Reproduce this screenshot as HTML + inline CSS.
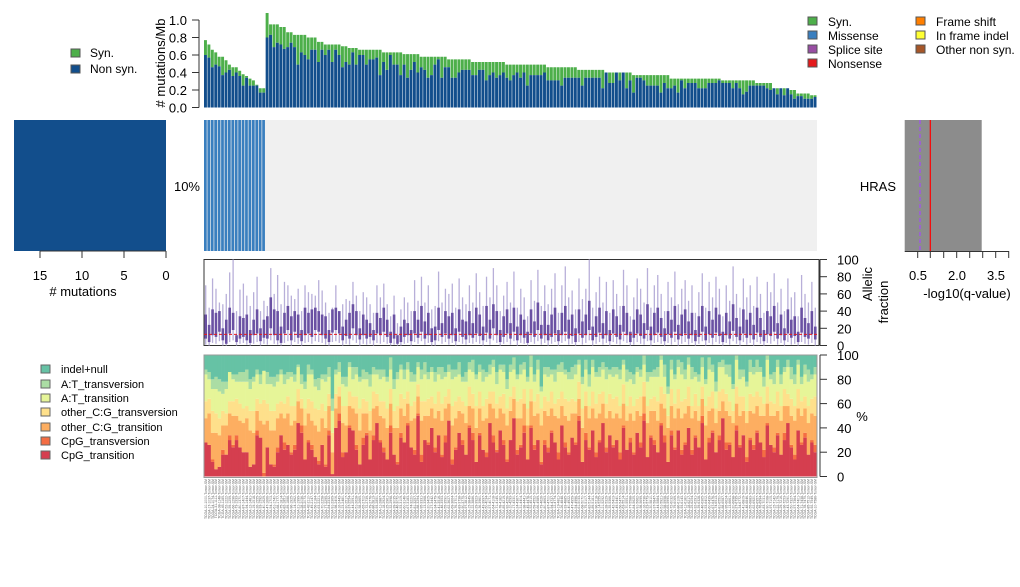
<!DOCTYPE html>
<html><head><meta charset="utf-8">
<style>
html,body{margin:0;padding:0;background:#fff;}
svg{display:block;font-family:"Liberation Sans",Arial,sans-serif;}
</style></head>
<body>
<svg id="chart" width="1020" height="587" viewBox="0 0 1020 587" xmlns="http://www.w3.org/2000/svg">
<g id="top"></g>
<g id="heat"></g>
<g id="allelic"></g>
<g id="spectrum"></g>
<g id="labels"></g>
<g id="static">
  <line x1="199" y1="20" x2="199" y2="107.5" stroke="#333"/>
  <text x="165" y="63" font-size="13" text-anchor="middle" transform="rotate(-90 165 63)"># mutations/Mb</text>
  <rect x="71" y="49" width="9" height="8" fill="#4daf4a" stroke="#555"/>
  <text x="90" y="57" font-size="12">Syn.</text>
  <rect x="71" y="65" width="9" height="8" fill="#124e8c" stroke="#555"/>
  <text x="90" y="73" font-size="12">Non syn.</text>
  <g font-size="12">
    <rect x="808" y="17" width="9" height="8" fill="#4daf4a" stroke="#555"/><text x="828" y="26">Syn.</text>
    <rect x="808" y="31" width="9" height="8" fill="#3a7fbf" stroke="#555"/><text x="828" y="40">Missense</text>
    <rect x="808" y="45" width="9" height="8" fill="#984ea3" stroke="#555"/><text x="828" y="54">Splice site</text>
    <rect x="808" y="59" width="9" height="8" fill="#e41a1c" stroke="#555"/><text x="828" y="68">Nonsense</text>
    <rect x="916" y="17" width="9" height="8" fill="#ff7f00" stroke="#555"/><text x="936" y="26">Frame shift</text>
    <rect x="916" y="31" width="9" height="8" fill="#ffff33" stroke="#555"/><text x="936" y="40">In frame indel</text>
    <rect x="916" y="45" width="9" height="8" fill="#a65628" stroke="#555"/><text x="936" y="54">Other non syn.</text>
  </g>
  <rect id="countbar" x="14" y="120" width="152" height="131" fill="#124e8c"/>
  <line x1="40" y1="251" x2="166" y2="251" stroke="#333"/>
  <g stroke="#333"><line x1="40" y1="251" x2="40" y2="258"/><line x1="82" y1="251" x2="82" y2="258"/><line x1="124" y1="251" x2="124" y2="258"/><line x1="166" y1="251" x2="166" y2="258"/></g>
  <g font-size="13" text-anchor="middle"><text x="40" y="280">15</text><text x="82" y="280">10</text><text x="124" y="280">5</text><text x="166" y="280">0</text></g>
  <text x="83" y="296" font-size="13" text-anchor="middle"># mutations</text>
  <text x="200" y="191" font-size="13" text-anchor="end">10%</text>
  <text x="896" y="191" font-size="13" text-anchor="end">HRAS</text>
  <rect x="904.7" y="120" width="77" height="131" fill="#8c8c8c"/>
  <line x1="920" y1="120" x2="920" y2="251" stroke="#9966cc" stroke-width="2" stroke-dasharray="4,3"/>
  <line x1="930.3" y1="120" x2="930.3" y2="251" stroke="#ff0000" stroke-width="1.2"/>
  <line x1="904.7" y1="251.5" x2="1008.7" y2="251.5" stroke="#333"/>
  <g stroke="#333"><line x1="917.7" y1="251" x2="917.7" y2="258"/><line x1="930.3" y1="251" x2="930.3" y2="258"/><line x1="943.7" y1="251" x2="943.7" y2="258"/><line x1="956.7" y1="251" x2="956.7" y2="258"/><line x1="969.7" y1="251" x2="969.7" y2="258"/><line x1="982.7" y1="251" x2="982.7" y2="258"/><line x1="995.7" y1="251" x2="995.7" y2="258"/><line x1="1008.7" y1="251" x2="1008.7" y2="258"/></g>
  <g font-size="13" text-anchor="middle"><text x="918" y="280">0.5</text><text x="957" y="280">2.0</text><text x="996" y="280">3.5</text></g>
  <text x="967" y="298" font-size="13" text-anchor="middle">-log10(q-value)</text>
  <text x="872" y="284" font-size="13" text-anchor="middle" transform="rotate(-90 872 284)">Allelic</text>
  <text x="888" y="302" font-size="13" text-anchor="middle" transform="rotate(-90 888 302)">fraction</text>
  <text x="862" y="421" font-size="13" text-anchor="middle">%</text>
  <g font-size="11">
    <rect x="41" y="365" width="9" height="8" fill="#66c2a5" stroke="#666"/><text x="61" y="373">indel+null</text>
    <rect x="41" y="380" width="9" height="8" fill="#abdda4" stroke="#666"/><text x="61" y="388">A:T_transversion</text>
    <rect x="41" y="394" width="9" height="8" fill="#e6f598" stroke="#666"/><text x="61" y="402">A:T_transition</text>
    <rect x="41" y="408" width="9" height="8" fill="#fee08b" stroke="#666"/><text x="61" y="416">other_C:G_transversion</text>
    <rect x="41" y="423" width="9" height="8" fill="#fdae61" stroke="#666"/><text x="61" y="431">other_C:G_transition</text>
    <rect x="41" y="437" width="9" height="8" fill="#f46d43" stroke="#666"/><text x="61" y="445">CpG_transversion</text>
    <rect x="41" y="451" width="9" height="8" fill="#d53e4f" stroke="#666"/><text x="61" y="459">CpG_transition</text>
  </g>
</g>
<script>
const nSamples = 179;
const mutatedCount = 18;
const rateTicks = [0, 20, 40, 60, 80, 100];
const rateTickLabels = ["0.0","0.2","0.4","0.6","0.8","1.0"];
const pctTicks = [0, 20, 40, 60, 80, 100];
const rateTotal = [77,72,66,63,58,58,54,49,46,46,42,38,36,33,31,26,22,22,
108,95,95,95,92,92,86,86,83,83,83,83,80,80,80,75,75,72,72,72,72,72,70,70,68,68,68,66,66,66,66,66,66,66,63,63,63,63,63,63,61,61,61,61,61,58,58,58,58,58,58,58,58,55,55,55,55,55,55,55,52,52,52,52,52,52,52,52,52,52,
49,49,49,49,49,49,49,49,49,49,49,49,46,46,46,46,46,46,46,46,46,43,43,43,43,43,43,43,43,40,40,40,40,40,40,40,40,37,37,37,37,37,37,37,37,37,37,37,
33,33,33,33,33,33,33,33,33,33,33,33,33,33,33,31,31,31,31,31,31,31,31,31,31,28,28,28,28,28,22,22,22,22,22,20,20,16,16,16,16,14,14];
const rateNonsyn = [60,57,46,49,47,37,40,43,36,40,36,25,34,25,25,25,17,17,
80,83,69,74,72,67,69,74,69,49,63,60,55,66,66,52,66,60,66,52,66,60,46,52,49,63,49,60,60,49,55,55,57,37,52,43,60,49,49,37,49,34,43,52,40,46,43,34,37,49,55,34,46,46,34,34,40,43,43,43,37,37,43,43,31,37,40,34,37,40,
34,31,37,40,34,40,25,37,37,37,37,40,31,31,31,31,25,34,34,34,34,34,25,34,34,34,34,34,22,40,28,28,40,31,40,22,31,17,34,34,31,25,25,25,25,17,28,22,
22,25,17,31,22,28,28,28,22,22,22,28,28,28,31,28,28,28,22,28,22,15,18,25,25,25,25,25,22,20,22,15,22,14,22,15,10,13,13,10,10,10,12];
const afLow = [1,0,3,2,5,0,0,4,6,0,2,3,1,0,2,4,0,2,1,6,
2,1,0,3,5,0,4,2,0,3,4,2,5,4,3,1,0,4,5,3,
0,2,1,6,3,0,2,1,2,0,3,2,4,2,0,1,0,0,2,3,
0,4,2,5,1,3,0,0,5,2,4,1,3,0,4,2,1,3,2,4,
2,0,4,1,6,3,0,2,4,1,5,0,3,2,0,4,2,5,1,3,
0,2,4,0,3,5,1,2,0,4,1,3,6,0,2,4,1,3,0,4,
2,1,5,3,0,1,4,2,1,5,0,3,4,2,0,3,1,4,0,2,
4,1,3,0,2,5,0,3,1,4,2,0,3,1,5,2,0,4,1,3,
0,4,2,0,3,2,5,1,3,0,4,1,2,0,4,2,1,3,0];
const afQ1 = [8,4,12,10,16,6,2,14,18,4,8,10,6,3,12,14,5,9,8,20,
12,6,3,14,18,6,16,9,5,12,14,10,18,16,12,8,4,15,18,14,
6,11,8,20,12,7,12,8,10,6,14,12,16,10,3,8,2,4,10,12,
5,14,9,16,8,12,4,6,18,10,14,8,12,5,16,10,7,12,9,14,
11,6,15,8,20,12,4,10,14,8,16,6,12,9,3,14,10,18,8,12,
6,10,14,5,12,16,8,11,4,14,9,12,18,6,10,15,8,12,5,14,
10,7,16,12,4,9,14,11,8,18,6,12,15,10,5,13,9,16,7,11,
14,8,12,5,10,16,6,13,9,15,11,4,12,8,17,10,6,14,9,12,
7,15,10,5,13,11,16,8,12,6,14,9,11,4,15,10,8,13,7];
const afQ3 = [36,24,42,38,40,20,30,44,38,12,34,32,36,18,30,42,20,30,34,56,
42,40,22,38,46,34,40,36,18,44,38,42,44,40,36,34,18,42,44,40,
22,30,38,48,40,20,36,30,26,18,38,32,44,30,16,36,12,22,30,26,
18,40,30,46,28,38,20,22,44,26,40,34,38,20,42,30,28,40,26,44,
36,22,46,30,48,40,18,34,42,26,44,22,36,30,16,42,28,50,24,40,
24,36,44,18,38,46,30,36,20,42,28,36,52,22,34,44,26,40,18,42,
34,24,46,38,16,30,42,36,26,48,22,38,44,32,20,40,30,46,24,36,
42,28,38,18,34,46,22,40,30,44,36,16,38,28,48,32,22,42,30,38,
24,44,32,18,40,34,46,26,36,20,42,30,34,16,44,32,26,40,22];
const afHigh = [70,44,78,66,50,48,60,85,100,40,65,72,58,46,62,80,40,52,46,90,
60,82,48,74,70,58,54,66,40,70,62,60,58,76,64,50,38,44,70,34,
48,54,52,74,58,40,62,56,48,38,70,56,72,48,34,58,26,42,56,50,
40,76,52,80,50,70,42,46,86,50,66,60,72,44,78,56,48,70,50,84,
62,46,80,56,90,70,40,58,74,50,86,44,66,56,34,76,52,88,46,70,
48,66,84,38,70,92,56,64,42,78,54,66,100,44,62,80,50,74,38,76,
60,46,88,70,34,56,78,66,50,90,44,70,82,60,40,74,56,86,48,66,
76,52,70,38,62,84,44,74,56,80,66,34,70,52,92,60,44,78,56,70,
46,80,60,38,74,62,84,50,66,40,78,56,62,34,82,60,50,74,44];
const afMedianLine = 13;
const cpgTransition = [28,26,12,6,8,18,18,30,24,30,24,20,20,8,10,34,32,0,24,10,
8,20,34,22,26,18,22,44,36,14,28,22,16,10,26,8,34,2,40,46,
16,20,40,38,22,10,26,34,14,30,44,28,20,14,36,18,10,32,28,42,
24,18,50,12,30,26,40,20,34,16,28,46,10,22,36,26,18,40,30,12,
34,22,16,44,28,20,38,26,12,30,48,18,24,36,14,40,22,30,10,26,
20,36,28,14,42,24,18,32,26,46,12,30,22,38,16,28,44,20,34,24,
30,14,40,22,28,18,36,24,46,16,32,26,20,42,28,12,34,22,38,18,
26,40,18,32,24,44,14,28,36,20,30,48,22,26,16,38,24,34,12,30,
22,36,28,16,42,26,20,34,18,30,44,24,14,38,26,32,18,28,20];
const cpgTransversion = [0,0,2,0,0,4,0,4,2,4,0,0,0,0,0,4,0,3,0,0,
2,4,0,6,0,2,4,0,6,0,2,4,0,3,0,2,4,0,0,6,
4,0,2,0,4,0,6,2,0,4,0,2,4,0,6,0,2,4,0,2,
0,4,2,6,0,2,0,4,0,2,6,0,4,2,0,4,0,2,6,0,
2,0,4,0,6,2,0,4,2,0,0,4,2,6,0,2,4,0,2,4,
4,2,0,6,0,4,2,0,2,4,0,6,2,0,4,2,0,4,0,2,
0,6,2,0,4,2,0,4,6,0,2,4,0,2,6,0,4,2,0,4,
2,0,4,2,0,6,0,4,2,0,4,0,6,2,0,4,2,0,4,2,
4,2,0,6,2,0,4,2,0,6,0,2,4,0,2,4,0,2,6];
const otherCGTransition = [20,26,22,30,26,20,24,18,24,16,22,24,28,30,26,16,14,40,22,28,
28,24,18,20,26,22,20,18,14,28,22,20,26,24,22,30,20,18,16,14,
24,22,16,18,26,28,20,16,24,22,14,20,24,26,18,22,28,20,22,16,
22,26,14,28,20,22,16,24,20,28,22,14,28,24,18,22,26,16,20,28,
20,24,28,16,22,26,18,22,28,24,16,26,22,18,28,20,24,22,30,24,
26,18,22,28,16,22,26,20,24,14,28,22,24,18,28,22,16,24,20,22,
22,28,18,24,20,26,18,22,14,28,20,24,26,16,22,28,20,24,18,26,
24,18,26,20,22,14,28,22,18,24,20,14,26,22,28,18,24,20,28,22,
26,20,22,28,16,24,26,18,28,22,14,24,28,18,22,20,26,22,24];
const otherCGTransversion = [14,12,18,16,14,12,10,10,12,14,14,12,10,16,18,10,14,20,14,16,
16,12,10,12,14,16,12,10,8,14,12,16,14,18,12,14,10,16,12,8,
14,16,12,10,14,18,12,10,16,14,10,12,14,16,12,14,18,12,14,10,
12,14,10,16,12,14,10,12,16,14,10,12,16,14,12,10,14,16,12,18,
14,12,16,10,14,12,10,16,14,12,10,14,16,12,14,10,12,16,14,12,
12,14,10,16,12,14,16,12,10,14,16,12,10,14,12,16,10,12,14,16,
14,10,16,12,14,12,10,16,12,14,10,12,16,14,12,10,14,12,16,14,
12,16,10,14,12,10,16,12,14,12,16,10,14,12,10,14,16,12,10,14,
14,12,16,10,14,12,10,16,12,14,10,14,12,16,12,10,14,12,16];
const atTransition = [22,16,18,20,22,14,20,24,18,14,18,22,20,18,24,20,16,24,16,22,
20,18,22,16,14,24,20,18,12,16,20,22,18,16,20,24,14,18,16,12,
18,16,20,14,18,22,16,18,20,14,16,18,20,22,16,18,22,20,16,18,
20,16,14,18,22,16,20,18,14,20,16,14,22,20,18,16,20,14,18,22,
16,20,18,14,20,16,22,18,16,20,14,18,20,16,22,18,16,20,14,18,
20,14,18,22,16,20,18,16,22,14,20,18,16,20,22,14,18,20,16,18,
18,22,16,20,14,18,22,16,14,20,18,16,20,22,14,18,16,20,18,22,
16,18,22,14,20,16,18,22,16,14,20,18,16,20,18,22,14,16,20,18,
18,16,20,14,22,18,16,20,18,14,22,16,18,20,14,18,20,16,18];
const atTransversion = [4,6,8,10,10,10,6,0,4,6,8,8,10,8,4,4,8,0,10,6,
8,6,4,8,6,4,6,2,8,6,8,4,6,10,4,6,8,10,4,8,
6,8,4,10,6,4,8,6,10,6,4,8,6,4,10,8,6,4,8,6,
8,6,4,8,10,6,4,8,6,10,4,6,8,6,10,4,8,6,10,4,
6,10,4,8,6,10,4,6,8,6,10,4,8,6,4,10,6,8,4,6,
8,4,10,6,8,4,6,10,8,4,6,8,10,6,4,8,6,10,4,8,
6,8,4,10,6,8,4,6,10,8,4,6,8,4,10,6,8,4,6,10,
8,6,10,4,6,8,4,10,6,8,4,6,8,10,4,6,8,6,4,10,
6,10,4,8,6,4,10,6,8,4,6,10,8,4,6,8,10,4,6];

const NS = "http://www.w3.org/2000/svg";
const X0 = 204, X1 = 817;
const bw = (X1 - X0) / nSamples;
function xPos(i){ return X0 + i * bw; }
function yRate(v){ return 107.5 - v / 100 * 87.5; }
function yAF(p){ return 345.5 - p * 0.86; }
function ySpec(p){ return 476.5 - p * 1.215; }
function mk(tag, attrs, parent){
  const e = document.createElementNS(NS, tag);
  for (const k in attrs) e.setAttribute(k, attrs[k]);
  parent.appendChild(e);
  return e;
}
const gTop = document.getElementById('top');
const gHeat = document.getElementById('heat');
const gAF = document.getElementById('allelic');
const gSp = document.getElementById('spectrum');
const gLab = document.getElementById('labels');

for (let i = 0; i < nSamples; i++) {
  const x = xPos(i);
  const s = mk('rect', {x: x, y: yRate(rateTotal[i]), width: bw - 0.5, height: yRate(rateNonsyn[i]) - yRate(rateTotal[i]), fill: '#4daf4a'}, gTop);
  
  
  const n = mk('rect', {x: x, y: yRate(rateNonsyn[i]), width: bw - 0.5, height: yRate(0) - yRate(rateNonsyn[i]), fill: '#124e8c'}, gTop);
  
  
}
for (let t = 0; t < rateTicks.length; t++) {
  const y = yRate(rateTicks[t]);
  mk('line', {x1: 192, x2: 199, y1: y, y2: y, stroke: '#333'}, gTop);
  const tx = mk('text', {x: 187, y: y + 5, 'font-size': 13, 'text-anchor': 'end'}, gTop);
  tx.textContent = rateTickLabels[t];
  
  
}

const bg = mk('rect', {x: X0, y: 120, width: X1 - X0, height: 131, fill: '#f0f0f0'}, gHeat);


for (let i = 0; i < mutatedCount; i++) {
  const c = mk('rect', {x: xPos(i), y: 120, width: bw - 0.7, height: 131, fill: '#3a7fbf'}, gHeat);
  
  
}
document.getElementById('countbar').setAttribute('width', mutatedCount * 152 / 18);
document.getElementById('countbar').setAttribute('x', 166 - mutatedCount * 152 / 18);

const fr = mk('rect', {x: X0, y: 259.5, width: X1 - X0 + 2, height: 86, fill: 'none', stroke: '#333'}, gAF);


for (let i = 0; i < nSamples; i++) {
  const cx = xPos(i) + bw / 2;
  const w = mk('line', {x1: cx, x2: cx, y1: yAF(afHigh[i]), y2: yAF(afLow[i]), stroke: '#b8afd9', 'stroke-width': 1.3}, gAF);
  
  
  const b = mk('rect', {x: cx - 1.3, y: yAF(afQ3[i]), width: 2.6, height: yAF(afQ1[i]) - yAF(afQ3[i]), fill: '#6a51a3'}, gAF);
  
  
}
const ml = mk('line', {x1: X0, x2: X1, y1: yAF(afMedianLine), y2: yAF(afMedianLine), stroke: '#e41a1c', 'stroke-dasharray': '3,2', 'stroke-width': 1}, gAF);


mk('line', {x1: 820, x2: 820, y1: yAF(100), y2: yAF(0), stroke: '#333'}, gAF);
for (const t of pctTicks) {
  mk('line', {x1: 820, x2: 827, y1: yAF(t), y2: yAF(t), stroke: '#333'}, gAF);
  const tx = mk('text', {x: 837, y: yAF(t) + 5, 'font-size': 13}, gAF);
  tx.textContent = t;
  
  
}

const specSeries = [cpgTransition, cpgTransversion, otherCGTransition, otherCGTransversion, atTransition, atTransversion];
const specColors = ['#d53e4f','#f46d43','#fdae61','#fee08b','#e6f598','#abdda4','#66c2a5'];
const specNames = ['cpg-transition','cpg-transversion','other-cg-transition','other-cg-transversion','at-transition','at-transversion','indel-null'];
for (let i = 0; i < nSamples; i++) {
  let cum = 0;
  for (let k = 0; k < 7; k++) {
    const v = k < 6 ? specSeries[k][i] : Math.max(0, 100 - cum);
    const top = Math.min(100, cum + v);
    if (top > cum) {
      const r = mk('rect', {x: xPos(i), y: ySpec(top), width: bw + 0.3, height: ySpec(cum) - ySpec(top), fill: specColors[k]}, gSp);
      
      
    }
    cum = top;
  }
}
const sf = mk('rect', {x: X0, y: ySpec(100), width: X1 - X0, height: ySpec(0) - ySpec(100) + 1, fill: 'none', stroke: '#999'}, gSp);


mk('line', {x1: 820, x2: 820, y1: ySpec(100), y2: ySpec(0), stroke: '#333'}, gSp);
for (const t of pctTicks) {
  mk('line', {x1: 820, x2: 827, y1: ySpec(t), y2: ySpec(t), stroke: '#333'}, gSp);
  const tx = mk('text', {x: 837, y: ySpec(t) + 5, 'font-size': 13}, gSp);
  tx.textContent = t;
  
  
}

for (let i = 0; i < nSamples; i++) {
  const cx = xPos(i) + bw / 2 + 1.2;
  const t = mk('text', {x: cx, y: 479, 'font-size': 3.4, fill: '#666', 'text-anchor': 'end', transform: 'rotate(-90 ' + cx + ' 479)'}, gLab);
  t.textContent = 'TCGA-' + (10 + (i * 7) % 89) + '-' + (1000 + i * 37) + '-Tumor-SM';
  
  
}
</script>
</svg>
</body></html>
